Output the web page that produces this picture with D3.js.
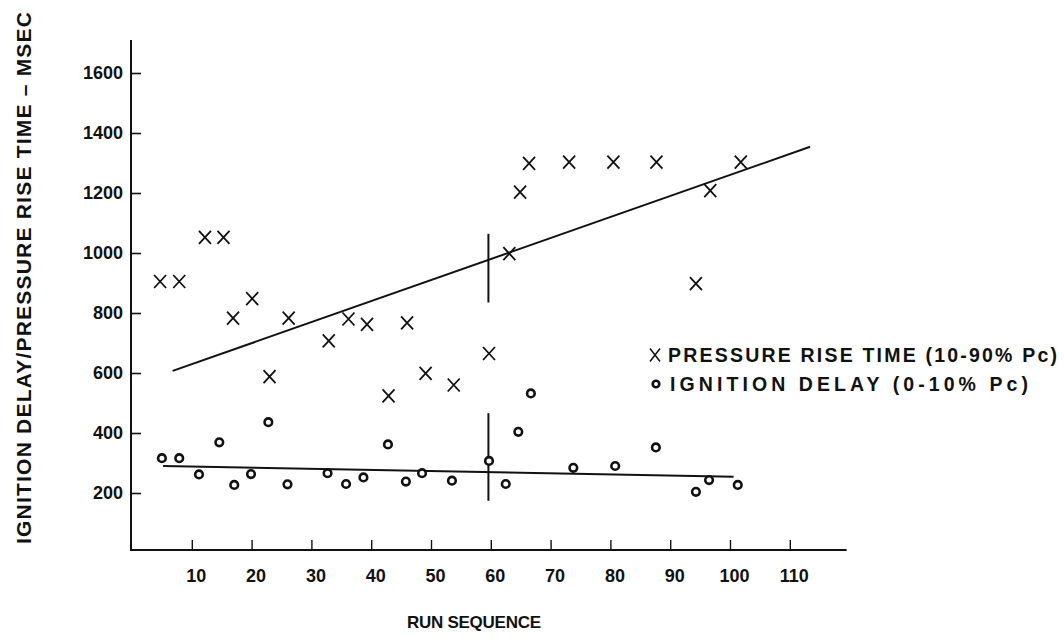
<!DOCTYPE html>
<html>
<head>
<meta charset="utf-8">
<script src="https://cdn.jsdelivr.net/npm/d3@7"></script>
<style>
  html, body { margin: 0; padding: 0; background: #fff; }
  svg { display: block; }
  text { font-family: "Liberation Sans", Arial, Helvetica, sans-serif; fill: #111; }
</style>
</head>
<body>
<svg id="chart" width="1064" height="640"></svg>
<script>
// ---- data ----
const xTickValues = [10, 20, 30, 40, 50, 60, 70, 80, 90, 100, 110];
const yTickValues = [200, 400, 600, 800, 1000, 1200, 1400, 1600];

const pressureRun = [4.7, 7.9, 12.2, 15.3, 16.9, 20.1, 23.0, 26.2, 32.9, 36.2, 39.3, 42.9, 46.0, 49.1, 53.8, 59.7, 63.1, 64.9, 66.4, 73.1, 80.5, 87.7, 94.3, 96.7, 101.8];
const pressureMs  = [905, 905, 1052, 1052, 783, 848, 588, 783, 707, 780, 762, 524, 767, 599, 560, 665, 998, 1203, 1299, 1303, 1303, 1303, 898, 1208, 1303];

const ignitionRun = [5.0, 7.9, 11.2, 14.6, 17.1, 19.9, 22.8, 26.0, 32.7, 35.8, 38.7, 42.8, 45.8, 48.5, 53.5, 59.7, 62.5, 64.6, 66.7, 73.8, 80.8, 87.6, 94.3, 96.5, 101.3];
const ignitionMs  = [316, 316, 262, 369, 227, 263, 436, 229, 266, 230, 252, 362, 238, 266, 241, 307, 230, 404, 532, 284, 290, 352, 204, 243, 227];

const pressureFitRun = [6.8, 113.4];
const pressureFitMs  = [607, 1354];
const ignitionFitRun = [5.2, 100.6];
const ignitionFitMs  = [290, 254];

const markerRun = [59.6, 59.6];
const upperMarkerMs = [835, 1064];
const lowerMarkerMs = [174, 466];

const yTitle = "IGNITION DELAY/PRESSURE RISE TIME \u2013 MSEC";
const xTitle = "RUN SEQUENCE";
const legendPressure = "PRESSURE RISE TIME (10-90% Pc)";
const legendIgnition = "IGNITION DELAY (0-10% Pc)";

// ---- drawing ----
const svg = d3.select("#chart");
const x = d3.scaleLinear().domain([0, 120]).range([132, 849.6]);
const y = d3.scaleLinear().domain([0, 1700]).range([553, 43]);

const ink = "#111";

// axis lines
svg.append("line").attr("x1", 131).attr("x2", 131).attr("y1", y(1710)).attr("y2", 551)
  .attr("stroke", ink).attr("stroke-width", 2);
svg.append("line").attr("x1", 130).attr("x2", x(119.5)).attr("y1", 550).attr("y2", 550)
  .attr("stroke", ink).attr("stroke-width", 2);

const yAxis = svg.append("g").attr("transform", "translate(131,0)")
  .call(d3.axisLeft(y).tickValues(yTickValues).tickSize(-10).tickSizeOuter(0).tickPadding(8).tickFormat(d3.format("d")));
yAxis.select(".domain").remove();
yAxis.selectAll(".tick line").attr("stroke", ink).attr("stroke-width", 1.6);
yAxis.selectAll(".tick text").attr("font-size", 18).attr("font-weight", "bold")
  .attr("font-family", "'Liberation Sans', Arial, sans-serif").attr("fill", ink);

const xAxis = svg.append("g").attr("transform", "translate(0,550)")
  .call(d3.axisBottom(x).tickValues(xTickValues).tickSize(-10).tickSizeOuter(0).tickPadding(19).tickFormat(d3.format("d")));
xAxis.select(".domain").remove();
xAxis.selectAll(".tick line").attr("stroke", ink).attr("stroke-width", 1.4);
xAxis.selectAll(".tick text").attr("font-size", 18).attr("font-weight", "bold")
  .attr("font-family", "'Liberation Sans', Arial, sans-serif").attr("fill", ink)
  .attr("dx", 4);

// titles
svg.append("text").attr("transform", "translate(31,278) rotate(-90)")
  .attr("text-anchor", "middle").attr("font-size", 21).attr("font-weight", "bold")
  .attr("textLength", 532).attr("lengthAdjust", "spacing").text(yTitle);
svg.append("text").attr("x", 474).attr("y", 628)
  .attr("text-anchor", "middle").attr("font-size", 17).attr("font-weight", "bold")
  .attr("textLength", 134).attr("lengthAdjust", "spacing").text(xTitle);

// fit lines
const line = d3.line().x(d => x(d[0])).y(d => y(d[1]));
svg.append("path").datum(d3.zip(pressureFitRun, pressureFitMs)).attr("d", line)
  .attr("fill", "none").attr("stroke", ink).attr("stroke-width", 2);
svg.append("path").datum(d3.zip(ignitionFitRun, ignitionFitMs)).attr("d", line)
  .attr("fill", "none").attr("stroke", ink).attr("stroke-width", 2);
svg.append("path").datum(d3.zip(markerRun, upperMarkerMs)).attr("d", line)
  .attr("fill", "none").attr("stroke", ink).attr("stroke-width", 2);
svg.append("path").datum(d3.zip(markerRun, lowerMarkerMs)).attr("d", line)
  .attr("fill", "none").attr("stroke", ink).attr("stroke-width", 2);

// X markers
const xPath = "M-6,-6.5L6,6.5M6,-6.5L-6,6.5";
svg.append("g").selectAll("path").data(d3.zip(pressureRun, pressureMs)).join("path")
  .attr("transform", d => `translate(${x(d[0])},${y(d[1])})`)
  .attr("d", xPath).attr("fill", "none").attr("stroke", ink).attr("stroke-width", 1.8);

// circle markers
svg.append("g").selectAll("circle").data(d3.zip(ignitionRun, ignitionMs)).join("circle")
  .attr("cx", d => x(d[0])).attr("cy", d => y(d[1])).attr("r", 3.8)
  .attr("fill", "#fff").attr("stroke", ink).attr("stroke-width", 2.6);

// legend
const lg = svg.append("g");
lg.append("path").attr("transform", "translate(655,355)").attr("d", "M-5,-6.5L5,6.5M5,-6.5L-5,6.5")
  .attr("fill", "none").attr("stroke", ink).attr("stroke-width", 1.5);
lg.append("text").attr("x", 668).attr("y", 362).attr("font-size", 19.5).attr("font-weight", "bold")
  .attr("textLength", 389).attr("lengthAdjust", "spacing").text(legendPressure);
lg.append("circle").attr("cx", 656).attr("cy", 384).attr("r", 3.3)
  .attr("fill", "#fff").attr("stroke", ink).attr("stroke-width", 2.6);
lg.append("text").attr("x", 670).attr("y", 391).attr("font-size", 19.5).attr("font-weight", "bold")
  .attr("textLength", 358).attr("lengthAdjust", "spacing").text(legendIgnition);
</script>
</body>
</html>
